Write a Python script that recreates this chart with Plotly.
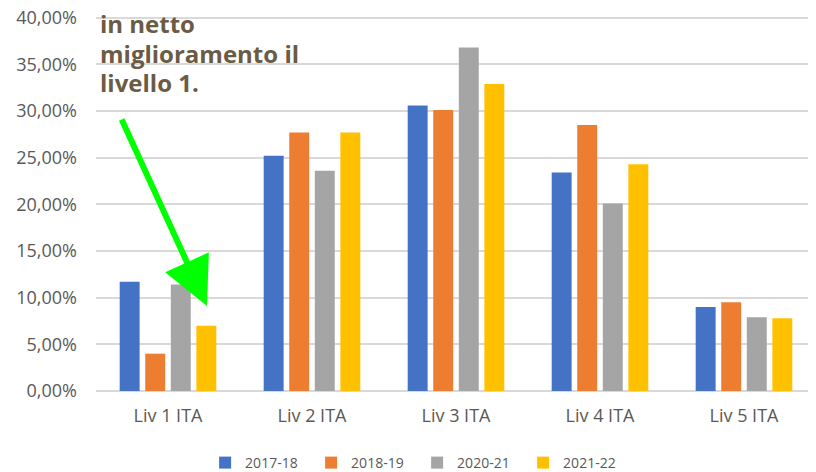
import plotly.graph_objects as go

categories = ["Liv 1 ITA", "Liv 2 ITA", "Liv 3 ITA", "Liv 4 ITA", "Liv 5 ITA"]
s_2017_18 = [0.117, 0.252, 0.306, 0.234, 0.090]
s_2018_19 = [0.040, 0.277, 0.301, 0.285, 0.095]
s_2020_21 = [0.114, 0.236, 0.368, 0.201, 0.079]
s_2021_22 = [0.070, 0.277, 0.329, 0.243, 0.078]
series_names = ["2017-18", "2018-19", "2020-21", "2021-22"]
colors = ["#4472C4", "#ED7D31", "#A5A5A5", "#FFC000"]
note_lines = ["in netto", "miglioramento il", "livello 1."]
y_ticks = [0, 0.05, 0.10, 0.15, 0.20, 0.25, 0.30, 0.35, 0.40]

fig = go.Figure()
for name, vals, col in zip(series_names, [s_2017_18, s_2018_19, s_2020_21, s_2021_22], colors):
    fig.add_trace(go.Bar(x=categories, y=vals, name=name, marker_color=col,
                         marker_line_width=0))

# page has an 8px body margin -> figure is 808x464 with origin at page (8,8)
Y_MAX = 0.405
PLOT_L, PLOT_W = 96, 720
PLOT_T, PLOT_H = 13, 378  # page coords of plot area (top) and its height
PLOT_B = PLOT_T + PLOT_H

def py(page_y):
    return 1 - (page_y - PLOT_T) / PLOT_H

def px(page_x):
    return (page_x - PLOT_L) / PLOT_W

font_fam = "Open Sans, Noto Sans, sans-serif"
fig.update_layout(
    width=808, height=464,
    margin=dict(l=88, r=0, t=PLOT_T - 8, b=464 - (PLOT_B - 8), autoexpand=False),
    paper_bgcolor="white", plot_bgcolor="white",
    barmode="group", bargap=0.29, bargroupgap=0.22,
    separators=",.",
    font=dict(family=font_fam, color="#595959", size=15),
    showlegend=True,
    legend=dict(orientation="h", x=0.446, xanchor="center", y=py(463),
                yanchor="middle",
                font=dict(size=14, color="#595959"), itemwidth=30,
                entrywidth=61, entrywidthmode="pixels", traceorder="normal"),
    xaxis=dict(showgrid=False, showline=False, ticks="", ticklabelstandoff=12,
               tickfont=dict(size=18, color="#595959")),
    yaxis=dict(range=[0, Y_MAX], tickvals=y_ticks,
               tickformat=".2%", showgrid=True, ticklabeloverflow="allow",
               gridcolor="#D9D9D9", gridwidth=1.5, zeroline=True, zerolinecolor="#D9D9D9",
               zerolinewidth=1.5, showline=False, ticks="", ticklabelstandoff=18,
               tickfont=dict(size=18, color="#595959")),
)

ys = [24, 53, 82]
for txt, yp in zip(note_lines, ys):
    fig.add_annotation(text="<b>" + txt + "</b>", xref="paper", yref="paper",
                       x=px(98), y=py(yp),
                       xanchor="left", yanchor="middle", showarrow=False,
                       font=dict(family=font_fam, size=24, color="#6B5B45"))

fig.add_annotation(text="", xref="paper", yref="paper",
                   x=px(207), y=py(306),
                   ax=121 - 207, ay=118 - 306, axref="pixel", ayref="pixel",
                   showarrow=True, arrowhead=2, arrowsize=1.6, arrowwidth=6,
                   arrowcolor="#00FF00", standoff=0)

fig.write_html("out.html")
